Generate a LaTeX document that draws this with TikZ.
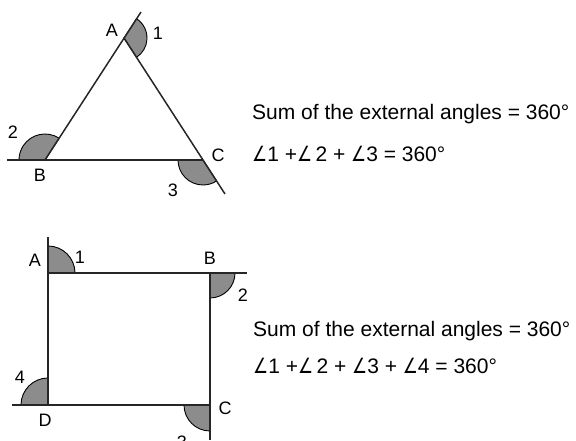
\documentclass[tikz,border=0pt]{standalone}
\usepackage{fontspec}
\setmainfont{Liberation Sans}
\newfontfamily\angfont{DejaVu Sans}
\newcommand{\angsym}{\scalebox{0.8}[1]{\angfont ∠}}

\begin{document}
\begin{tikzpicture}[x=1pt, y=1pt,
  every node/.style={font=\fontsize{18}{20}\selectfont, inner sep=0pt},
  txt/.style={anchor=base west, font=\fontsize{21}{24}\selectfont},
  edge/.style={line width=1.5pt, black!85},
  wedge/.style={fill=black!45, draw=black, line width=0.9pt}]
  \useasboundingbox (0,0) rectangle (576,441);

  % triangle
  \coordinate (tA) at (124,403);
  \coordinate (tB) at (45,281);
  \coordinate (tC) at (203,281);
  \coordinate (tAe) at (141,429);
  \coordinate (tCe) at (225,247);
  \coordinate (tBe) at (7,281);
  \filldraw[wedge] (tA) -- ++(57:23) arc[start angle=57, end angle=-57, radius=23] -- cycle;
  \filldraw[wedge] (tB) -- ++(57:26) arc[start angle=57, end angle=180, radius=26] -- cycle;
  \filldraw[wedge] (tC) -- ++(180:25) arc[start angle=180, end angle=303, radius=25] -- cycle;
  \draw[edge] (tBe) -- (tC);
  \draw[edge] (tB) -- (tAe);
  \draw[edge] (tA) -- (tCe);
  \node (ltA) at (112,411) {A};
  \node (lt1) at (158,408) {1};
  \node (lt2) at (13,309) {2};
  \node (ltB) at (40,266) {B};
  \node (ltC) at (218,286) {C};
  \node (lt3) at (173,251) {3};
  \node[txt] (sum1) at (252,321) {Sum of the external angles = 360°};
  \node[txt] (eq1) at (252,279) {\angsym1 +\angsym\,2 + \angsym3 = 360°};

  % square
  \coordinate (sA) at (48,168);
  \coordinate (sB) at (210,168);
  \coordinate (sC) at (210,36);
  \coordinate (sD) at (48,36);
  \coordinate (sAe) at (48,204);
  \coordinate (sBe) at (247,168);
  \coordinate (sCe) at (210,1);
  \coordinate (sDe) at (12,36);
  \filldraw[wedge] (sA) -- ++(0:27) arc[start angle=0, end angle=90, radius=27] -- cycle;
  \filldraw[wedge] (sB) -- ++(270:25) arc[start angle=270, end angle=360, radius=25] -- cycle;
  \filldraw[wedge] (sC) -- ++(180:26) arc[start angle=180, end angle=270, radius=26] -- cycle;
  \filldraw[wedge] (sD) -- ++(90:27) arc[start angle=90, end angle=180, radius=27] -- cycle;
  \draw[edge] (sD) -- (sAe);
  \draw[edge] (sA) -- (sBe);
  \draw[edge] (sB) -- (sCe);
  \draw[edge] (sDe) -- (sC);
  \node (lsA) at (35,181) {A};
  \node (ls1) at (80,184) {1};
  \node (lsB) at (210,183) {B};
  \node (ls2) at (243,146) {2};
  \node (ls4) at (20,64) {4};
  \node (lsD) at (45,21) {D};
  \node (lsC) at (225,33) {C};
  \node (ls3) at (182,-1) {3};
  \node[txt] (sum2) at (253,104) {Sum of the external angles = 360°};
  \node[txt] (eq2) at (253,67) {\angsym1 +\angsym\,2 + \angsym3 + \angsym4 = 360°};
\end{tikzpicture}
\end{document}
